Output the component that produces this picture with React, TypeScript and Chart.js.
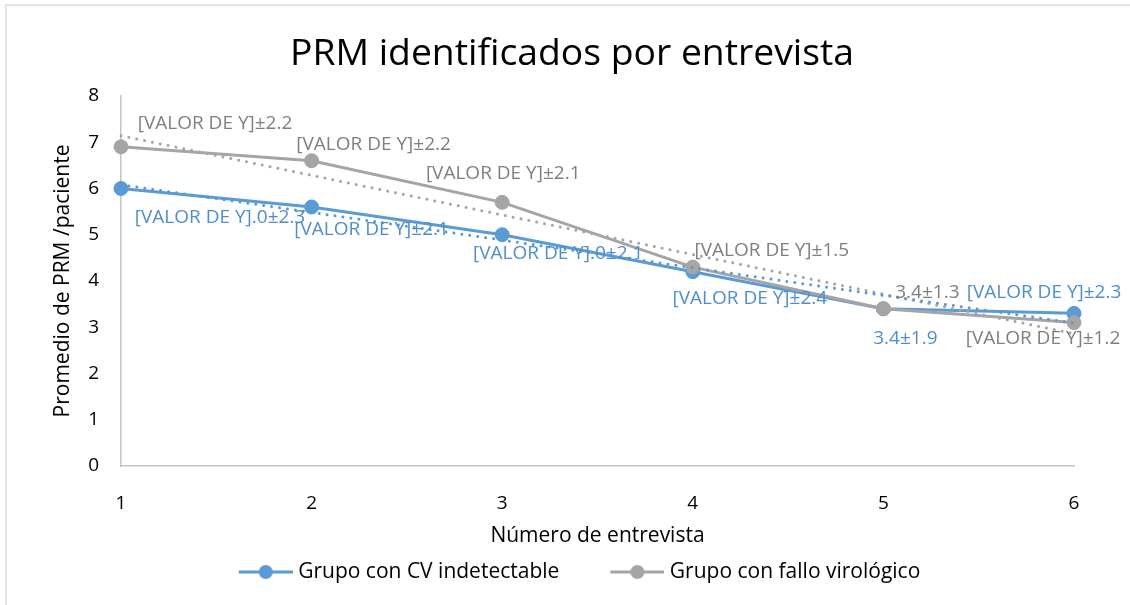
import React, { useEffect, useRef } from "react";
import { Chart, registerables } from "chart.js";

Chart.register(...registerables);

// ---- data ----
const categories = ["1", "2", "3", "4", "5", "6"];
const seriesNames = ["Grupo con CV indetectable", "Grupo con fallo virológico"];
const cvIndetectable = [6.0, 5.6, 5.0, 4.2, 3.4, 3.3];
const falloVirologico = [6.9, 6.6, 5.7, 4.3, 3.4, 3.1];
// linear trendlines: value at first and at last category
const trendCv = [6.08, 3.09];
const trendFallo = [7.14, 2.86];
const labelsCv = [
  "[VALOR DE Y].0±2.3",
  "[VALOR DE Y]±2.1",
  "[VALOR DE Y].0±2.1",
  "[VALOR DE Y]±2.4",
  "3.4±1.9",
  "[VALOR DE Y]±2.3",
];
const labelsFallo = [
  "[VALOR DE Y]±2.2",
  "[VALOR DE Y]±2.2",
  "[VALOR DE Y]±2.1",
  "[VALOR DE Y]±1.5",
  "3.4±1.3",
  "[VALOR DE Y]±1.2",
];
const yMin = 0;
const yMax = 8;
const yStep = 1;

// ---- label placement (style, in px relative to the point) ----
const offsetsCv = [
  [99, 29],
  [60, 23],
  [56, 19],
  [57, 27],
  [22, 30],
  [-30, -21],
];
const offsetsFallo = [
  [94, -23],
  [62, -16],
  [1, -29],
  [79, -17],
  [44, -16],
  [-31, 16],
];

const BLUE = "#5B9BD5";
const GRAY = "#A5A5A5";
const BLUE_TEXT = "#4F8ECC";
const GRAY_TEXT = "#7F7F7F";
const FONT = "'Open Sans', 'Noto Sans', sans-serif";
const AXIS = "#C4C4C4";

// legend marker: line with a dot, drawn in the right part of a wider transparent canvas
function makeMarker(color: string): HTMLCanvasElement {
  const c = document.createElement("canvas");
  c.width = 74;
  c.height = 16;
  const ctx = c.getContext("2d")!;
  ctx.strokeStyle = color;
  ctx.lineWidth = 3;
  ctx.beginPath();
  ctx.moveTo(20, 8);
  ctx.lineTo(74, 8);
  ctx.stroke();
  ctx.fillStyle = color;
  ctx.beginPath();
  ctx.arc(47, 8, 7, 0, Math.PI * 2);
  ctx.fill();
  return c;
}

export default function App() {
  const ref = useRef<HTMLCanvasElement | null>(null);

  useEffect(() => {
    if (!ref.current) return;
    const markers = [makeMarker(BLUE), makeMarker(GRAY)];

    const framePlugin = {
      id: "frame",
      beforeDraw(chart: any) {
        const { ctx, width, height } = chart;
        ctx.save();
        ctx.fillStyle = "#ffffff";
        ctx.fillRect(0, 0, width, height);
        ctx.strokeStyle = "#D9D9D9";
        ctx.lineWidth = 1.5;
        ctx.beginPath();
        ctx.moveTo(6, height);
        ctx.lineTo(6, 5);
        ctx.lineTo(width, 5);
        ctx.stroke();
        ctx.restore();
      },
    };

    const labelPlugin = {
      id: "valueLabels",
      afterDatasetsDraw(chart: any) {
        const { ctx } = chart;
        const sets = [
          { idx: 0, texts: labelsCv, offs: offsetsCv, color: BLUE_TEXT },
          { idx: 1, texts: labelsFallo, offs: offsetsFallo, color: GRAY_TEXT },
        ];
        ctx.save();
        ctx.font = `19px ${FONT}`;
        ctx.textAlign = "center";
        ctx.textBaseline = "middle";
        sets.forEach((s) => {
          const meta = chart.getDatasetMeta(s.idx);
          meta.data.forEach((pt: any, j: number) => {
            ctx.fillStyle = s.color;
            ctx.fillText(s.texts[j], pt.x + s.offs[j][0], pt.y + s.offs[j][1]);
          });
        });
        ctx.restore();
      },
    };

    const chart = new Chart(ref.current, {
      type: "line",
      data: {
        labels: categories,
        datasets: [
          {
            label: seriesNames[0],
            data: cvIndetectable,
            borderColor: BLUE,
            backgroundColor: BLUE,
            borderWidth: 3,
            pointRadius: 7,
            pointBorderWidth: 1,
            pointBackgroundColor: BLUE,
            pointBorderColor: BLUE,
            order: 2,
          },
          {
            label: seriesNames[1],
            data: falloVirologico,
            borderColor: GRAY,
            backgroundColor: GRAY,
            borderWidth: 3,
            pointRadius: 7,
            pointBorderWidth: 1,
            pointBackgroundColor: GRAY,
            pointBorderColor: GRAY,
            order: 1,
          },
          {
            label: "Lineal (" + seriesNames[0] + ")",
            data: [
              { x: categories[0], y: trendCv[0] },
              { x: categories[categories.length - 1], y: trendCv[1] },
            ] as any,
            borderColor: BLUE,
            borderWidth: 3,
            borderDash: [0.01, 8],
            borderCapStyle: "round",
            pointRadius: 0,
            order: 0,
          },
          {
            label: "Lineal (" + seriesNames[1] + ")",
            data: [
              { x: categories[0], y: trendFallo[0] },
              { x: categories[categories.length - 1], y: trendFallo[1] },
            ] as any,
            borderColor: GRAY,
            borderWidth: 3,
            borderDash: [0.01, 8],
            borderCapStyle: "round",
            pointRadius: 0,
            order: 0,
          },
        ],
      },
      options: {
        responsive: false,
        animation: false,
        layout: { padding: { left: 14, right: 0, top: 0, bottom: 12.5 } },
        plugins: {
          tooltip: { enabled: false },
          title: {
            display: true,
            text: "PRM identificados por entrevista",
            color: "#000000",
            font: { family: FONT, size: 37.3, weight: "normal", lineHeight: 1.2 },
            padding: { top: 32.1, bottom: 19.1 },
          },
          legend: {
            position: "bottom",
            labels: {
              usePointStyle: true,
              pointStyleWidth: 64,
              padding: 36,
              color: "#000000",
              font: { family: FONT, size: 21 },
              generateLabels: (c: any) =>
                [0, 1].map((i) => ({
                  text: c.data.datasets[i].label,
                  pointStyle: markers[i],
                  fillStyle: i === 0 ? BLUE : GRAY,
                  strokeStyle: i === 0 ? BLUE : GRAY,
                  lineWidth: 0,
                  hidden: false,
                  datasetIndex: i,
                  fontColor: "#000000",
                })),
            },
          },
        },
        scales: {
          x: {
            type: "category",
            offset: false,
            grid: { display: false, drawTicks: false },
            border: { color: AXIS, width: 1.5 },
            ticks: { padding: 26.6, color: "#000000", font: { family: FONT, size: 19 } },
            title: {
              display: true,
              text: "Número de entrevista",
              color: "#000000",
              font: { family: FONT, size: 21 },
              padding: { top: 0, bottom: -23.1 },
            },
            afterFit: (s: any) => {
              s.height = 59.5;
            },
          },
          y: {
            min: yMin,
            max: yMax,
            grid: { display: false, drawTicks: false },
            border: { color: AXIS, width: 1.5 },
            ticks: { stepSize: yStep, padding: 22, color: "#000000", font: { family: FONT, size: 19 } },
            title: {
              display: true,
              text: "Promedio de PRM /paciente",
              color: "#000000",
              font: { family: FONT, size: 21 },
              padding: { top: 36.4, bottom: 0 },
            },
            afterFit: (s: any) => {
              s.width = 107;
            },
          },
          y2: {
            position: "right",
            grid: { display: false, drawTicks: false },
            border: { display: false },
            ticks: { display: false },
            afterFit: (s: any) => {
              s.width = 56;
            },
          },
        },
      } as any,
      plugins: [framePlugin, labelPlugin],
    });
    return () => chart.destroy();
  }, []);

  return (
    <div style={{ position: "absolute", left: 0, top: 0, width: 1130, height: 605 }}>
      <canvas ref={ref} width={1130} height={605} style={{ display: "block" }} />
    </div>
  );
}
